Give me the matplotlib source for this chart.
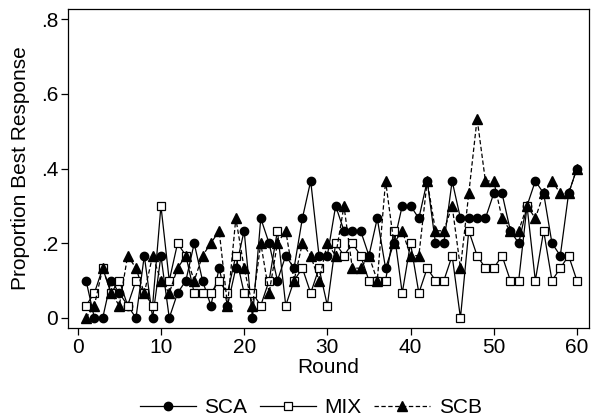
import matplotlib
matplotlib.use("Agg")
import matplotlib.pyplot as plt
import numpy as np

plt.rcParams['font.family'] = ['Liberation Sans', 'DejaVu Sans']

rounds = list(range(1, 61))
# values in units of 1/30
sca_k = [3, 0, 0, 3, 2, 1, 0, 5, 0, 5,
         0, 2, 3, 6, 3, 1, 4, 1, 4, 7,
         0, 8, 6, 3, 5, 4, 8, 11, 5, 5,
         9, 7, 7, 7, 5, 8, 4, 6, 9, 9,
         8, 11, 6, 6, 11, 8, 8, 8, 8, 10,
         10, 7, 6, 9, 11, 10, 6, 5, 10, 12]
mix_k = [1, 2, 4, 2, 3, 1, 3, 2, 1, 9,
         3, 6, 5, 2, 2, 2, 3, 2, 5, 2,
         2, 1, 3, 7, 1, 3, 4, 2, 4, 1,
         6, 5, 6, 5, 3, 3, 3, 7, 2, 6,
         2, 4, 3, 3, 5, 0, 7, 5, 4, 4,
         5, 3, 3, 9, 3, 7, 3, 4, 5, 3]
scb_k = [0, 1, 4, 2, 1, 5, 4, 2, 5, 3,
         2, 4, 5, 3, 5, 6, 7, 1, 8, 4,
         1, 6, 2, 6, 7, 3, 6, 5, 3, 6,
         5, 9, 4, 4, 5, 3, 11, 6, 7, 5,
         5, 11, 7, 7, 9, 4, 10, 16, 11, 11,
         8, 7, 7, 9, 8, 10, 11, 10, 10, 12]
sca = np.array(sca_k) / 30
mix = np.array(mix_k) / 30
scb = np.array(scb_k) / 30

fig = plt.figure(figsize=(5.92, 4.2), dpi=100)
ax = fig.add_axes([68/592, 1-328/420, (589-68)/592, (328-9)/420])

ms = 6
fs = 15
ax.plot(rounds, sca, '-', color='black', lw=0.9, marker='o', ms=ms,
        mfc='black', mec='black', label='SCA')
ax.plot(rounds, mix, '-', color='black', lw=0.9, marker='s', ms=ms-0.4,
        mfc='white', mec='black', mew=0.9, label='MIX')
ax.plot(rounds, scb, color='black', lw=0.9, ls=(0, (3.5, 2)), marker='^', ms=ms+0.6,
        mfc='black', mec='black', label='SCB')

ax.set_xlim(-1.17, 61.45)
ax.set_ylim(-0.0268, 0.8268)
ax.set_xticks([0, 10, 20, 30, 40, 50, 60])
ax.set_yticks([0, 0.2, 0.4, 0.6, 0.8])
ax.set_yticklabels(['0', '.2', '.4', '.6', '.8'])
ax.tick_params(axis='both', direction='out', length=5, width=0.9,
               labelsize=fs, colors='black')
ax.tick_params(axis='y', pad=2)
ax.tick_params(axis='x', pad=2)
for s in ax.spines.values():
    s.set_linewidth(0.9)
    s.set_color('black')

ax.set_xlabel('Round', fontsize=fs, labelpad=1)
ax.set_ylabel('Proportion Best Response', fontsize=fs, labelpad=8)

fig.legend(loc='lower center', bbox_to_anchor=(0.525, -0.038), ncol=3,
           frameon=False, fontsize=fs, handlelength=2.7, numpoints=1,
           columnspacing=0.6, handletextpad=0.4)

fig.savefig('out.png', dpi=100, facecolor='white')
